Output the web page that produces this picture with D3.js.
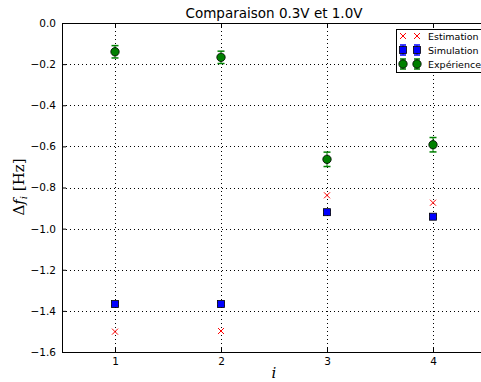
<!DOCTYPE html>
<html><head><meta charset="utf-8">
<script src="https://cdn.jsdelivr.net/npm/d3@7"></script>
<style>body{margin:0;background:#fff;}svg{display:block;}</style>
</head><body>
<script>
const xValues = [1, 2, 3, 4];
const estimation = [-1.501, -1.498, -0.838, -0.874];
const simulation = [-1.367, -1.367, -0.920, -0.942];
const simulationErr = [0.008, 0.008, 0.008, 0.008];
const experience = [-0.140, -0.167, -0.663, -0.592];
const experienceErr = [0.03, 0.03, 0.035, 0.035];
const yTicks = [0.0, -0.2, -0.4, -0.6, -0.8, -1.0, -1.2, -1.4, -1.6];
const xTicks = [1, 2, 3, 4];
const legendLabels = ["Estimation", "Simulation", "Expérience"];
const titleText = "Comparaison 0.3V et 1.0V";

const W = 481, H = 382;
const svg = d3.select("body").append("svg").attr("width", W).attr("height", H);
const x = d3.scaleLinear().domain([0.5, 4.5]).range([62, 486]);
const y = d3.scaleLinear().domain([-1.6, 0]).range([352, 23]);
const fmt = v => (v < 0 ? "\u2212" : "") + Math.abs(v).toFixed(1);

// grid
const g = svg.append("g");
g.selectAll(".gy").data(yTicks).enter().append("line")
  .attr("x1", x(0.5)).attr("x2", x(4.5)).attr("y1", d => Math.round(y(d)) + 0.5).attr("y2", d => Math.round(y(d)) + 0.5)
  .attr("stroke", "#000").attr("stroke-width", 1).attr("stroke-dasharray", "1,3");
g.selectAll(".gx").data(xTicks).enter().append("line")
  .attr("y1", y(0)).attr("y2", y(-1.6)).attr("x1", d => Math.round(x(d)) + 0.5).attr("x2", d => Math.round(x(d)) + 0.5)
  .attr("stroke", "#000").attr("stroke-width", 1).attr("stroke-dasharray", "1,3");

// axes (matplotlib classic: inward ticks)
const axLeft = svg.append("g").attr("transform", `translate(${x(0.5)},0)`)
  .call(d3.axisLeft(y).tickValues(yTicks).tickFormat(fmt).tickSizeInner(-4).tickSizeOuter(0).tickPadding(6));
const axBottom = svg.append("g").attr("transform", `translate(0,${y(-1.6)})`)
  .call(d3.axisBottom(x).tickValues(xTicks).tickFormat(d3.format("d")).tickSizeInner(-4).tickSizeOuter(0).tickPadding(6));
const axTop = svg.append("g").attr("transform", `translate(0,${y(0)})`)
  .call(d3.axisTop(x).tickValues(xTicks).tickFormat("").tickSizeInner(-4).tickSizeOuter(0));
[axLeft, axBottom, axTop].forEach(a => {
  a.selectAll("text").attr("font-family", "DejaVu Sans").attr("font-size", 10.5).attr("fill", "#000");
  a.selectAll("line").attr("stroke", "#000");
  a.select(".domain").attr("stroke", "#000");
});

// error bars
function errorbars(vals, errs, color) {
  const eg = svg.append("g");
  vals.forEach((v, i) => {
    const cx = x(xValues[i]);
    eg.append("line").attr("x1", cx).attr("x2", cx).attr("y1", y(v - errs[i])).attr("y2", y(v + errs[i]))
      .attr("stroke", color).attr("stroke-width", 1);
    [v - errs[i], v + errs[i]].forEach(e => eg.append("line")
      .attr("x1", cx - 3.5).attr("x2", cx + 3.5).attr("y1", y(e)).attr("y2", y(e))
      .attr("stroke", color).attr("stroke-width", 1.5));
  });
}
errorbars(simulation, simulationErr, "#0000ff");
errorbars(experience, experienceErr, "#008000");

// markers
function cross(sel, cx, cy) {
  const s = 3;
  sel.append("path").attr("d", `M${cx - s},${cy - s}L${cx + s},${cy + s}M${cx - s},${cy + s}L${cx + s},${cy - s}`)
    .attr("stroke", "#ff0000").attr("stroke-width", 1).attr("fill", "none");
}
function square(sel, cx, cy) {
  sel.append("rect").attr("x", cx - 3.5).attr("y", cy - 3.5).attr("width", 7).attr("height", 7)
    .attr("fill", "#0000ff").attr("stroke", "#000").attr("stroke-width", 0.8);
}
function circle(sel, cx, cy) {
  sel.append("circle").attr("cx", cx).attr("cy", cy).attr("r", 4.2)
    .attr("fill", "#008000").attr("stroke", "#000").attr("stroke-width", 0.8);
}
const mg = svg.append("g");
estimation.forEach((v, i) => cross(mg, x(xValues[i]), y(v)));
simulation.forEach((v, i) => square(mg, x(xValues[i]), y(v)));
experience.forEach((v, i) => circle(mg, x(xValues[i]), y(v)));

// legend
const lg = svg.append("g");
lg.append("rect").attr("x", 396.5).attr("y", 29.5).attr("width", 100).attr("height", 43)
  .attr("fill", "#fff").attr("stroke", "#000").attr("stroke-width", 1);
const drawers = [cross, square, circle];
const legColors = [null, "#0000ff", "#008000"];
legendLabels.forEach((lab, i) => {
  const ly = 36 + i * 14;
  [403, 417].forEach(lx => {
    if (legColors[i]) {
      lg.append("line").attr("x1", lx).attr("x2", lx).attr("y1", ly - 5).attr("y2", ly + 5).attr("stroke", legColors[i]);
      [ly - 5, ly + 5].forEach(e => lg.append("line").attr("x1", lx - 3).attr("x2", lx + 3).attr("y1", e).attr("y2", e)
        .attr("stroke", legColors[i]).attr("stroke-width", 1.5));
    }
    drawers[i](lg, lx, ly);
  });
  lg.append("text").attr("x", 428).attr("y", ly + 3.5).text(lab)
    .attr("font-family", "DejaVu Sans").attr("font-size", 9.5).attr("fill", "#000");
});

// title & labels
svg.append("text").attr("x", 274).attr("y", 18).attr("text-anchor", "middle").text(titleText)
  .attr("font-family", "DejaVu Sans").attr("font-size", 13.5).attr("fill", "#000");
svg.append("text").attr("x", 274).attr("y", 378).attr("text-anchor", "middle")
  .attr("font-family", "DejaVu Serif").attr("font-style", "italic").attr("font-size", 15).text("i");
const yl = svg.append("text").attr("transform", "translate(24,187) rotate(-90)").attr("text-anchor", "middle")
  .attr("font-family", "DejaVu Serif").attr("font-size", 15);
yl.append("tspan").text("\u0394");
yl.append("tspan").attr("font-style", "italic").text("f");
yl.append("tspan").attr("font-style", "italic").attr("font-size", 10).attr("dy", 3).text("i");
yl.append("tspan").attr("dy", -3).text(" [Hz]");
</script>
</body></html>
